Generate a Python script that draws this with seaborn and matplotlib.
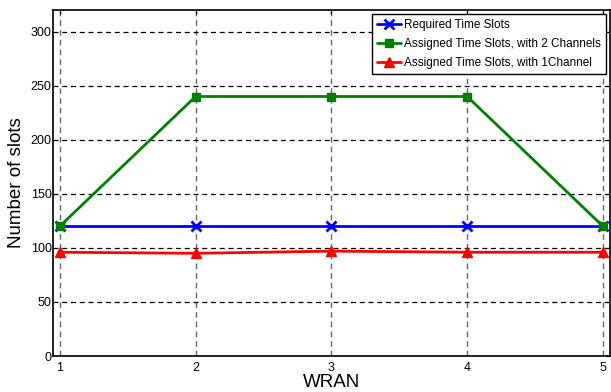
import matplotlib
matplotlib.use("Agg")
import matplotlib.pyplot as plt
import seaborn as sns
import pandas as pd

wran = [1, 2, 3, 4, 5]
required = [120, 120, 120, 120, 120]
assigned_2ch = [120, 240, 240, 240, 120]
assigned_1ch = [96, 95, 97, 96, 96]
labels = ["Required Time Slots",
          "Assigned Time Slots, with 2 Channels",
          "Assigned Time Slots, with 1Channel"]

sns.set_style("white")
plt.rcParams['font.family'] = ['Liberation Sans', 'DejaVu Sans']
plt.rcParams.update({"text.color": "black", "axes.labelcolor": "black",
                     "xtick.color": "black", "ytick.color": "black"})

fig = plt.figure(figsize=(6.11, 3.92), dpi=100)
ax = fig.add_axes([0.0867, 0.0918, 0.9113, 0.8827])

series = [
    (required, labels[0], "#0000ff", "x", 7),
    (assigned_2ch, labels[1], "#008000", "s", 6),
    (assigned_1ch, labels[2], "#ff0000", "^", 7),
]
for vals, lab, col, mk, ms in series:
    sns.lineplot(x=wran, y=vals, color=col, marker=mk, markersize=ms,
                 markeredgewidth=2 if mk == "x" else 1, markeredgecolor=col,
                 linewidth=2, label=lab, ax=ax)

ax.set_xlim(0.95, 5.05)
ax.set_ylim(0, 320)
ax.set_xticks([1, 2, 3, 4, 5])
ax.set_yticks([0, 50, 100, 150, 200, 250, 300])
ax.tick_params(axis="both", labelsize=9, direction="in", length=3,
               color="black", labelcolor="black", top=True, right=True)
ax.tick_params(axis="x", pad=4)
ax.tick_params(axis="y", pad=1)
ax.xaxis.grid(True, linestyle=(0, (4, 3)), color="#666666", linewidth=1)
ax.yaxis.grid(True, linestyle=(0, (4, 3)), color="black", linewidth=0.9)
for s in ax.spines.values():
    s.set_color("black")
    s.set_linewidth(1.2)
ax.set_xlabel("WRAN", fontsize=13.5, labelpad=0, color="black")
ax.set_ylabel("Number of slots", fontsize=13.5, labelpad=4, color="black")

leg = ax.legend(loc="upper right", fontsize=8.5, frameon=True, fancybox=False,
                edgecolor="black", handlelength=2.0, handletextpad=0.3,
                borderpad=0.45, labelspacing=0.6, borderaxespad=0.3)
leg.get_frame().set_linewidth(1.0)
leg.get_frame().set_alpha(1)
for t in leg.get_texts():
    t.set_color("black")

fig.savefig("out.png", dpi=100)
